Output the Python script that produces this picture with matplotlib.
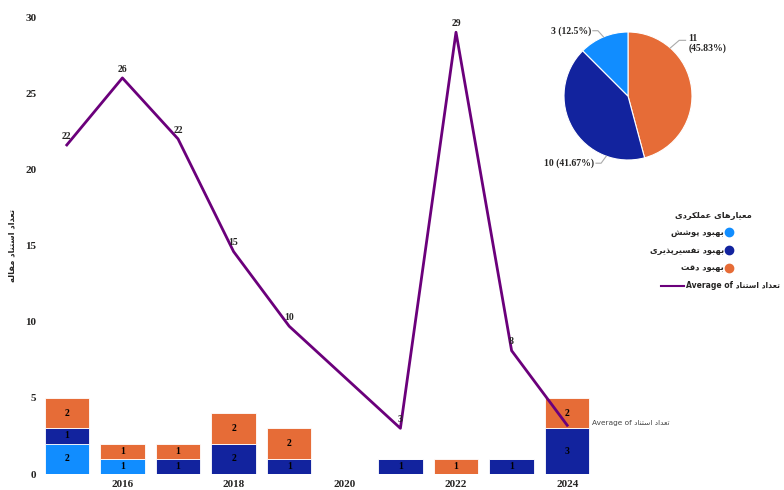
import matplotlib
matplotlib.use('Agg')
import matplotlib.pyplot as plt
from matplotlib.lines import Line2D
import numpy as np

# citations per year, split by performance criterion
years = [2015, 2016, 2017, 2018, 2019, 2020, 2021, 2022, 2023, 2024]
coverage = [2, 1, 0, 0, 0, 0, 0, 0, 0, 0]     # بهبود پوشش
interpret = [1, 0, 1, 2, 1, 0, 1, 0, 1, 3]    # بهبود تفسیرپذیری
accuracy = [2, 1, 1, 2, 2, 0, 0, 1, 0, 2]     # بهبود دقت

# average citation count per year (no papers in 2020)
line_years = [2015, 2016, 2017, 2018, 2019, 2021, 2022, 2023, 2024]
avg_cites = [21.6, 26.0, 22.0, 14.6, 9.7, 3.0, 29.0, 8.1, 3.2]

series_names = ['بهبود پوشش', 'بهبود تفسیرپذیری', 'بهبود دقت']
colors = ['#118DFF', '#12239E', '#E66C37']
line_color = '#6B007B'
text_color = '#252423'

# --- tiny arabic/persian shaper: matplotlib draws glyphs left to right, unjoined
FORMS = {  # isolated, final, initial, medial
    'ا': ('\uFE8D', '\uFE8E', None, None),
    'ب': ('\uFE8F', '\uFE90', '\uFE91', '\uFE92'),
    'ت': ('\uFE95', '\uFE96', '\uFE97', '\uFE98'),
    'د': ('\uFEA9', '\uFEAA', None, None),
    'ذ': ('\uFEAB', '\uFEAC', None, None),
    'ر': ('\uFEAD', '\uFEAE', None, None),
    'س': ('\uFEB1', '\uFEB2', '\uFEB3', '\uFEB4'),
    'ش': ('\uFEB5', '\uFEB6', '\uFEB7', '\uFEB8'),
    'ع': ('\uFEC9', '\uFECA', '\uFECB', '\uFECC'),
    'ف': ('\uFED1', '\uFED2', '\uFED3', '\uFED4'),
    'ق': ('\uFED5', '\uFED6', '\uFED7', '\uFED8'),
    'ل': ('\uFEDD', '\uFEDE', '\uFEDF', '\uFEE0'),
    'م': ('\uFEE1', '\uFEE2', '\uFEE3', '\uFEE4'),
    'ن': ('\uFEE5', '\uFEE6', '\uFEE7', '\uFEE8'),
    'ه': ('\uFEE9', '\uFEEA', '\uFEEB', '\uFEEC'),
    'و': ('\uFEED', '\uFEEE', None, None),
    'پ': ('\uFB56', '\uFB57', '\uFB58', '\uFB59'),
    'ک': ('\uFB8E', '\uFB8F', '\uFB90', '\uFB91'),
    'ی': ('\uFBFC', '\uFBFD', '\uFBFE', '\uFBFF'),
}


def fa(s):
    out = []
    for i, ch in enumerate(s):
        if ch not in FORMS:
            out.append(ch)
            continue
        prev = s[i - 1] if i > 0 else ''
        nxt = s[i + 1] if i + 1 < len(s) else ''
        dual = FORMS[ch][2] is not None
        j_prev = prev in FORMS and FORMS[prev][2] is not None
        j_next = dual and nxt in FORMS
        if j_prev and j_next:
            out.append(FORMS[ch][3])
        elif j_prev:
            out.append(FORMS[ch][1])
        elif j_next:
            out.append(FORMS[ch][2])
        else:
            out.append(FORMS[ch][0])
    return ''.join(reversed(out))


plt.rcParams['font.family'] = 'Liberation Serif'
plt.rcParams['font.weight'] = 'bold'
AR = 'DejaVu Sans'

fig = plt.figure(figsize=(7.84, 4.9), dpi=100)
W, H = 784, 490
ax = fig.add_axes([39 / W, 16 / H, 556 / W, 457 / H])

# stacked bars
bottom = np.zeros(len(years))
for vals, c in zip([coverage, interpret, accuracy], colors):
    vals = np.array(vals)
    ax.bar(years, vals, 0.8, bottom=bottom, color=c, edgecolor='white', linewidth=0.6)
    for x, b, v in zip(years, bottom, vals):
        if v > 0:
            ax.text(x, b + v / 2, str(v), ha='center', va='center',
                    fontsize=7, color='black')
    bottom += vals

# average citations line
ax.plot(line_years, avg_cites, color=line_color, lw=2, zorder=3)
for x, v in zip(line_years[:-1], avg_cites[:-1]):
    ax.annotate(f'{v:.0f}', (x, v), xytext=(0, 3), textcoords='offset points',
                ha='center', va='bottom', fontsize=7, color=text_color, zorder=4)
ax.annotate('Average of ' + fa('تعداد استناد'), (line_years[-1], avg_cites[-1]),
            xytext=(25, 2), textcoords='offset pixels', ha='left', va='center',
            fontsize=5.3, fontweight='normal', family=AR, color='#444444',
            annotation_clip=False)

ax.set_xlim(2014.5, 2024.5)
ax.set_ylim(0, 30)
ax.set_xticks([2016, 2018, 2020, 2022, 2024])
ax.set_yticks(range(0, 31, 5))
ax.tick_params(length=0, labelsize=8, labelcolor=text_color)
ax.tick_params(axis='y', pad=2)
ax.tick_params(axis='x', pad=4)
for s in ax.spines.values():
    s.set_visible(False)

fig.text(12 / W, 1 - 245 / H, fa('تعداد استناد مقاله'), rotation=90,
         ha='center', va='center', fontsize=6, family=AR, color=text_color)

# totals pie
totals = [sum(accuracy), sum(interpret), sum(coverage)]
pax = fig.add_axes([564 / W, 1 - 160 / H, 128 / W, 128 / H])
pax.pie(totals, colors=[colors[2], colors[1], colors[0]], startangle=90,
        counterclock=False, wedgeprops=dict(edgecolor='white', linewidth=0.8))
pax.set_xlim(-1, 1)
pax.set_ylim(-1, 1)
tot = sum(totals)
lead = dict(color='#AAAAAA', lw=0.8, clip_on=False)
pax.plot([0.66, 0.80, 0.90], [0.75, 0.87, 0.87], **lead)
pax.text(0.94, 0.82, f'{totals[0]}\n({totals[0] / tot * 100:.2f}%)', ha='left',
         va='center', fontsize=7, color=text_color, linespacing=1.1)
pax.plot([-0.34, -0.42, -0.50], [-0.94, -1.05, -1.05], **lead)
pax.text(-0.53, -1.05, f'{totals[1]} ({totals[1] / tot * 100:.2f}%)', ha='right',
         va='center', fontsize=7, color=text_color)
pax.plot([-0.38, -0.47, -0.55], [0.92, 1.02, 1.02], **lead)
pax.text(-0.58, 1.02, f'{totals[2]} ({totals[2] / tot * 100:.1f}%)', ha='right',
         va='center', fontsize=7, color=text_color)

# legend, right-to-left layout
fig.text(675 / W, 1 - 215 / H, fa('معیارهای عملکردی'), ha='left', va='center',
         fontsize=6, family=AR, color=text_color)
for i, (name, c) in enumerate(zip(series_names, colors)):
    y = 1 - (232 + i * 18) / H
    fig.text(724 / W, y, fa(name), ha='right', va='center', fontsize=6,
             family=AR, color=text_color)
    fig.add_artist(Line2D([729 / W], [y], marker='o', ms=6, color=c,
                          transform=fig.transFigure))

# line entry: text flush to the right edge, swatch just left of it
y = 1 - 286 / H
lt = fig.text(780 / W, y, 'Average of ' + fa('تعداد استناد'), ha='right',
              va='center', fontsize=5.5, family=AR, color=text_color)
fig.canvas.draw()
x0 = lt.get_window_extent().x0
fig.add_artist(Line2D([(x0 - 25) / W, (x0 - 2) / W], [y, y], color=line_color,
                      lw=1.5, transform=fig.transFigure))

fig.savefig('out.png', dpi=100, facecolor='white')
